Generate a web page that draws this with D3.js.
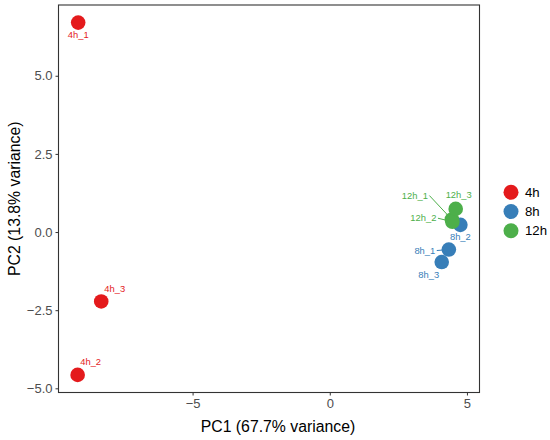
<!DOCTYPE html>
<html><head><meta charset="utf-8">
<script src="https://cdn.jsdelivr.net/npm/d3@7"></script>
<style>body{margin:0;background:#fff}svg{display:block}text{font-family:"Liberation Sans",Arial,Helvetica,sans-serif}</style>
</head><body><svg id="c" width="550" height="440"></svg>
<script>
const samples = ["4h_1","4h_2","4h_3","8h_1","8h_2","8h_3","12h_1","12h_2","12h_3"];
const groups  = ["4h","4h","4h","8h","8h","8h","12h","12h","12h"];
const pc1 = [-9.17,-9.19,-8.33, 4.34, 4.76, 4.08, 4.45, 4.47, 4.59];
const pc2 = [ 6.70,-4.57,-2.22,-0.56, 0.23,-0.96, 0.40, 0.33, 0.74];
// label offsets (ggrepel-like placement, px)
const labDx = [0, 13, 13.5, -24, 0, -13, -37, -29, 3];
const labDy = [15, -9.5, -9.5, 4, 15, 15.5, -21, -0.5, -10.5];
const labSeg = [false,false,false,true,false,false,true,true,false];
const legendGroups = ["4h","8h","12h"];
const groupColors = ["#E41A1C","#377EB8","#4DAF4A"];
const xTicks = [-5,0,5];
const yTicks = [-5,-2.5,0,2.5,5];

const svg = d3.select("#c");
const L=58.5, R=479.5, T=5, B=392.5, PR=7.3;
const ext = (a)=>{const [mn,mx]=d3.extent(a);const p=(mx-mn)*0.05;return [mn-p,mx+p];};
const x = d3.scaleLinear().domain(ext(pc1)).range([L,R]);
const y = d3.scaleLinear().domain(ext(pc2)).range([B,T]);
const color = d3.scaleOrdinal().domain(legendGroups).range(groupColors);
const fmtMinus = s => s.replace("-","\u2212");

const xa = svg.append("g").attr("transform",`translate(0,${B})`)
  .call(d3.axisBottom(x).tickValues(xTicks).tickSize(3).tickPadding(3).tickFormat(d=>fmtMinus(d3.format("d")(d))));
const ya = svg.append("g").attr("transform",`translate(${L},0)`)
  .call(d3.axisLeft(y).tickValues(yTicks).tickSize(3).tickPadding(3).tickFormat(d=>fmtMinus(d3.format(".1f")(d))));
[xa,ya].forEach(a=>{a.select(".domain").remove();
  a.selectAll(".tick line").attr("stroke","#333").attr("stroke-width",1);
  a.selectAll(".tick text").attr("fill","#4D4D4D").style("font-size","13px");});

svg.append("rect").attr("x",L).attr("y",T).attr("width",R-L).attr("height",B-T)
  .attr("fill","none").attr("stroke","#333").attr("stroke-width",1.1);

const idx = d3.range(samples.length);
const segG = svg.append("g");
// points
svg.append("g").selectAll("circle").data(idx).join("circle")
  .attr("cx",i=>x(pc1[i])).attr("cy",i=>y(pc2[i])).attr("r",PR)
  .attr("fill",i=>color(groups[i]));
// labels
const labs = svg.append("g").selectAll("text").data(idx).join("text")
  .attr("x",i=>x(pc1[i])+labDx[i]).attr("y",i=>y(pc2[i])+labDy[i])
  .attr("text-anchor","middle").attr("fill",i=>color(groups[i]))
  .style("font-size","9.4px").text(i=>samples[i]);
// segments from label right edge to point edge
labs.each(function(i){
  if(!labSeg[i]) return;
  const w = this.getComputedTextLength();
  const x1 = x(pc1[i])+labDx[i]+w/2+1.5, y1 = y(pc2[i])+labDy[i]-3;
  const cx = x(pc1[i]), cy = y(pc2[i]);
  const dx = cx-x1, dy = cy-y1, d = Math.hypot(dx,dy);
  const k = Math.max(0,(d-PR+1)/d);
  segG.append("line").attr("x1",x1).attr("y1",y1).attr("x2",x1+dx*k).attr("y2",y1+dy*k)
    .attr("stroke",color(groups[i])).attr("stroke-width",1);
});

// axis titles
svg.append("text").attr("x",278).attr("y",432).attr("text-anchor","middle")
  .style("font-size","15.8px").attr("fill","#000").text("PC1 (67.7% variance)");
svg.append("text").attr("transform",`translate(20,${(T+B)/2}) rotate(-90)`).attr("text-anchor","middle")
  .style("font-size","15.8px").attr("fill","#000").text("PC2 (13.8% variance)");

// legend
const lg = svg.append("g").selectAll("g").data(legendGroups).join("g")
  .attr("transform",(d,i)=>`translate(511,${192.3+i*19.2})`);
lg.append("circle").attr("r",7.5).attr("fill",d=>color(d));
lg.append("text").attr("x",14).attr("y",4.7).style("font-size","13.2px").attr("fill","#000").text(d=>d);
</script></body></html>
